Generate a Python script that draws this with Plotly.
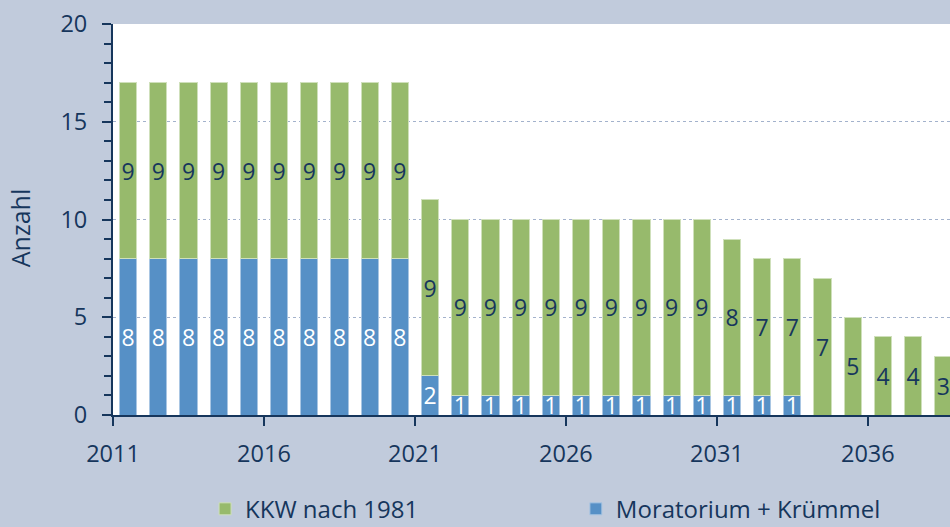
import plotly.graph_objects as go

years = list(range(2011, 2039))
moratorium = [8]*10 + [2] + [1]*12 + [0, 0, 0, 0, 0]
kkw = [9]*10 + [9] + [9]*9 + [8, 7, 7, 7, 5, 4, 4, 3]
tick_years = [2011, 2016, 2021, 2026, 2031, 2036]

navy = "#16365c"
green = "#97ba6c"
blue = "#5690c6"
bg = "#c1cbdc"
font_family = "Open Sans, Noto Sans, sans-serif"

xpos = [y + 0.5 for y in years]

fig = go.Figure()
fig.add_trace(go.Bar(
    x=xpos, y=moratorium, name="Moratorium + Krümmel",
    marker=dict(color=blue, line=dict(color="#a9c6e3", width=1)),
    text=[str(v) if v else "" for v in moratorium],
    textposition="inside", insidetextanchor="middle",
    textfont=dict(color="white", size=23, family=font_family),
    constraintext="none", width=0.57, legend="legend2", showlegend=True,
))
fig.add_trace(go.Bar(
    x=xpos, y=kkw, name="KKW nach 1981",
    marker=dict(color=green, line=dict(color="#cfe0bb", width=1)),
    text=[str(v) for v in kkw],
    textposition="inside", insidetextanchor="middle",
    textfont=dict(color=navy, size=23, family=font_family),
    constraintext="none", width=0.57, legend="legend", showlegend=True,
))

leg_common = dict(orientation="h", xanchor="left", y=-0.241, yanchor="middle",
                  font=dict(size=24, color=navy, family=font_family),
                  bgcolor="rgba(0,0,0,0)", borderwidth=0, visible=True)
fig.update_layout(
    barmode="stack",
    showlegend=True,
    width=950, height=527,
    margin=dict(l=113, r=0, t=24, b=112, autoexpand=False),
    paper_bgcolor=bg, plot_bgcolor="white",
    font=dict(family=font_family, color=navy, size=23),
    legend=dict(x=0.110, **leg_common),
    legend2=dict(x=0.553, **leg_common),
    annotations=[dict(text="Anzahl", x=-0.1110, y=0.478, xref="paper", yref="paper",
                      xanchor="center", yanchor="middle", textangle=-90, showarrow=False,
                      font=dict(size=25, color=navy, family=font_family))],
)
fig.update_xaxes(
    range=[2011, 2038.72], tickvals=tick_years, ticktext=[str(t) for t in tick_years],
    showgrid=False, zeroline=False, showline=True, linecolor=navy, linewidth=2,
    ticks="outside", ticklen=9, tickcolor=navy, tickwidth=2, automargin=False,
    tickfont=dict(size=23.5, color=navy), ticklabelstandoff=8,
)
fig.update_yaxes(
    range=[0, 20], tickvals=[0, 5, 10, 15, 20],
    showgrid=True, gridcolor="#a3b2cc", griddash="dot", gridwidth=1,
    zeroline=False, showline=True, linecolor=navy, linewidth=2,
    ticks="outside", ticklen=9, tickcolor=navy, tickwidth=2, automargin=False,
    minor=dict(dtick=1, ticks="outside", ticklen=7, tickcolor=navy, tickwidth=1.5, showgrid=False),
    tickfont=dict(size=23.5, color=navy), ticklabelstandoff=10,
)

fig.write_html("out.html", config={"displayModeBar": False},
               post_script="document.body.style.margin='0';document.body.style.padding='0';"
                           "document.body.style.background='" + bg + "';")
